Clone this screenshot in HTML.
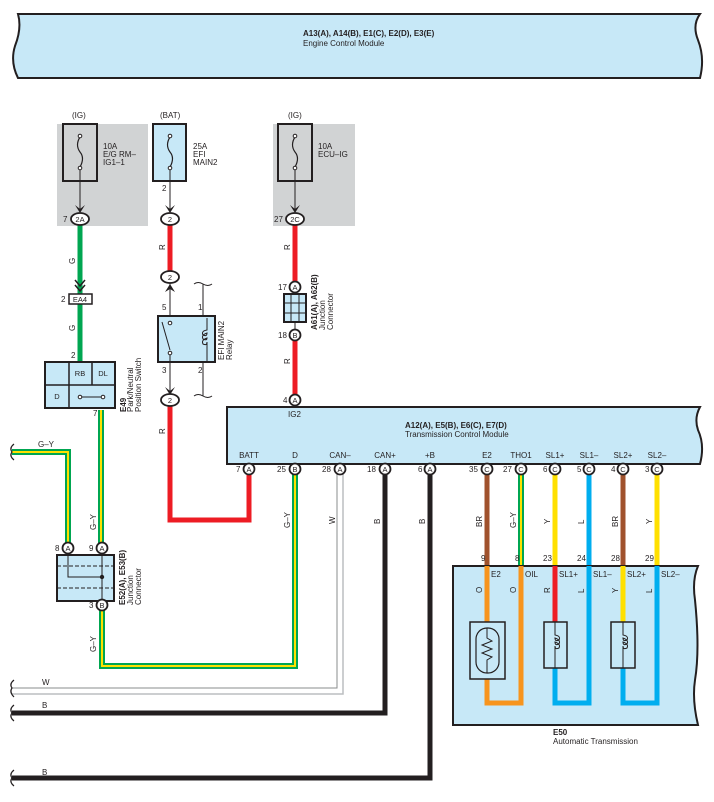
<!DOCTYPE html>
<html><head><meta charset="utf-8"><style>
html,body{margin:0;padding:0;background:#fff;}
svg{display:block;font-family:"Liberation Sans",sans-serif;}
.t{font-size:8px;fill:#231f20;}
.b{font-size:8px;font-weight:bold;fill:#231f20;}
.bx{fill:#c7e8f7;stroke:#231f20;stroke-width:2;}
.cn{fill:#fff;stroke:#231f20;stroke-width:1.8;}
.ct{font-size:7.5px;fill:#231f20;text-anchor:middle;}
</style></head><body>
<svg width="714" height="802" viewBox="0 0 714 802" xmlns="http://www.w3.org/2000/svg">
<!-- ECM -->
<path class="bx" d="M18,14 L700,14 Q692,25 698,40 Q705,58 700,78 L18,78 Q10,62 15,46 Q22,28 18,14 Z"/>
<text class="b" x="303" y="36">A13(A), A14(B), E1(C), E2(D), E3(E)</text>
<text class="t" x="303" y="46">Engine Control Module</text>

<!-- gray fuse areas -->
<rect x="57" y="124" width="91" height="102" fill="#d1d3d4"/>
<rect x="273" y="124" width="82" height="102" fill="#d1d3d4"/>
<text class="t" x="72" y="118">(IG)</text>
<text class="t" x="160" y="118">(BAT)</text>
<text class="t" x="288" y="118">(IG)</text>
<rect x="63" y="124" width="34" height="57" fill="#d1d3d4" stroke="#231f20" stroke-width="2"/>
<rect x="153" y="124" width="33" height="57" class="bx"/>
<rect x="278" y="124" width="34" height="57" fill="#d1d3d4" stroke="#231f20" stroke-width="2"/>
<g fill="none" stroke="#231f20" stroke-width="1.2">
<path d="M80,137 Q75,145 80,152 Q85,158 80,167"/>
<path d="M170,137 Q165,145 170,152 Q175,158 170,167"/>
<path d="M295,137 Q290,145 295,152 Q300,158 295,167"/>
</g>
<g fill="#fff" stroke="#231f20" stroke-width="1"><circle cx="80" cy="136" r="1.8"/><circle cx="80" cy="168" r="1.8"/><circle cx="170" cy="136" r="1.8"/><circle cx="170" cy="168" r="1.8"/><circle cx="295" cy="136" r="1.8"/><circle cx="295" cy="168" r="1.8"/></g>
<text class="t" x="103" y="149">10A</text><text class="t" x="103" y="157">E/G RM–</text><text class="t" x="103" y="165">IG1–1</text>
<text class="t" x="193" y="149">25A</text><text class="t" x="193" y="157">EFI</text><text class="t" x="193" y="165">MAIN2</text>
<text class="t" x="318" y="149">10A</text><text class="t" x="318" y="157">ECU–IG</text>
<g stroke="#231f20" stroke-width="1"><line x1="80" y1="170" x2="80" y2="212"/><line x1="170" y1="170" x2="170" y2="212"/><line x1="295" y1="170" x2="295" y2="212"/></g>
<g fill="#231f20"><path d="M75,205 L80,213 L85,205 L80,209Z"/><path d="M165,205 L170,213 L175,205 L170,209Z"/><path d="M290,205 L295,213 L300,205 L295,209Z"/></g>
<text class="t" x="162" y="191">2</text>

<!-- wires -->
<g fill="none" stroke-linejoin="miter">
<line x1="80" y1="225" x2="80" y2="364" stroke="#00a651" stroke-width="5"/>
<line x1="170" y1="225" x2="170" y2="272" stroke="#ed1c24" stroke-width="5"/>
<polyline points="170,405 170,520 249,520 249,474" stroke="#ed1c24" stroke-width="5"/>
<line x1="295" y1="225" x2="295" y2="282" stroke="#ed1c24" stroke-width="5"/>
<line x1="295" y1="340" x2="295" y2="395" stroke="#ed1c24" stroke-width="5"/>
<g stroke="#00a651" stroke-width="6">
<polyline points="101,410 101,543"/>
<polyline points="12,452 68,452 68,543"/>
<polyline points="102,610 102,666 295,666 295,474"/>
<polyline points="521,474 521,566"/>
</g>
<g stroke="#ffe000" stroke-width="2">
<polyline points="101,410 101,543"/>
<polyline points="12,452 68,452 68,543"/>
<polyline points="102,610 102,666 295,666 295,474"/>
<polyline points="521,474 521,566"/>
</g>
<polyline points="12,688 337,688 337,474" stroke="#8a8c8e" stroke-width="1"/>
<polyline points="12,694 343,694 343,474" stroke="#bcbec0" stroke-width="1.5"/>
<polyline points="12,713 385,713 385,474" stroke="#231f20" stroke-width="5"/>
<polyline points="12,778 430,778 430,474" stroke="#231f20" stroke-width="5"/>
<line x1="487" y1="474" x2="487" y2="566" stroke="#a0522d" stroke-width="5"/>
<line x1="555" y1="474" x2="555" y2="566" stroke="#ffe000" stroke-width="5"/>
<line x1="589" y1="474" x2="589" y2="566" stroke="#00aeef" stroke-width="5"/>
<line x1="623" y1="474" x2="623" y2="566" stroke="#a0522d" stroke-width="5"/>
<line x1="657" y1="474" x2="657" y2="566" stroke="#ffe000" stroke-width="5"/>
</g>
<g fill="none" stroke="#231f20" stroke-width="1.2">
<path d="M14,444 Q9,448 12,452 Q9,456 14,460"/>
<path d="M14,680 Q9,684 12,688 Q9,692 14,697"/>
<path d="M14,705 Q9,709 12,713 Q9,717 14,721"/>
<path d="M14,770 Q9,774 12,778 Q9,782 14,786"/>
</g>
<text class="t" x="38" y="447">G–Y</text>
<text class="t" x="42" y="685">W</text>
<text class="t" x="42" y="708">B</text>
<text class="t" x="42" y="775">B</text>

<g class="t">
<text transform="translate(75,264) rotate(-90)">G</text>
<text transform="translate(75,331) rotate(-90)">G</text>
<text transform="translate(165,250) rotate(-90)">R</text>
<text transform="translate(165,434) rotate(-90)">R</text>
<text transform="translate(290,250) rotate(-90)">R</text>
<text transform="translate(290,364) rotate(-90)">R</text>
<text transform="translate(96,530) rotate(-90)">G–Y</text>
<text transform="translate(96,652) rotate(-90)">G–Y</text>
<text transform="translate(290,528) rotate(-90)">G–Y</text>
<text transform="translate(335,524) rotate(-90)">W</text>
<text transform="translate(380,524) rotate(-90)">B</text>
<text transform="translate(425,524) rotate(-90)">B</text>
<text transform="translate(482,527) rotate(-90)">BR</text>
<text transform="translate(516,528) rotate(-90)">G–Y</text>
<text transform="translate(550,524) rotate(-90)">Y</text>
<text transform="translate(584,524) rotate(-90)">L</text>
<text transform="translate(618,527) rotate(-90)">BR</text>
<text transform="translate(652,524) rotate(-90)">Y</text>
</g>

<ellipse class="cn" cx="80" cy="219" rx="9" ry="6"/><text class="ct" x="80" y="222">2A</text><text class="t" x="63" y="222">7</text>
<ellipse class="cn" cx="170" cy="219" rx="9" ry="6"/><text class="ct" x="170" y="222">2</text>
<ellipse class="cn" cx="295" cy="219" rx="9" ry="6"/><text class="ct" x="295" y="222">2C</text><text class="t" x="274" y="222">27</text>
<path d="M75,280 L80,286 L85,280 M75,285 L80,291 L85,285" stroke="#231f20" stroke-width="1.5" fill="none"/>
<rect x="69" y="294" width="23" height="10" fill="#fff" stroke="#231f20" stroke-width="1.5"/>
<text class="ct" x="80" y="302">EA4</text><text class="t" x="61" y="302">2</text>

<rect class="bx" x="45" y="362" width="70" height="46"/>
<g stroke="#231f20" stroke-width="1.5"><line x1="69" y1="362" x2="69" y2="408"/><line x1="92" y1="362" x2="92" y2="385"/><line x1="45" y1="385" x2="115" y2="385"/></g>
<text class="ct" x="80" y="376">RB</text><text class="ct" x="103" y="376">DL</text><text class="ct" x="57" y="399">D</text>
<line x1="80" y1="397" x2="103" y2="397" stroke="#231f20" stroke-width="1"/>
<circle cx="80" cy="397" r="1.8" fill="#fff" stroke="#231f20"/><circle cx="103" cy="397" r="1.8" fill="#fff" stroke="#231f20"/>
<text class="t" x="71" y="358">2</text><text class="t" x="93" y="416">7</text>
<text class="b" transform="translate(126,412) rotate(-90)">E49</text>
<text class="t" transform="translate(133,412) rotate(-90)">Park/Neutral</text>
<text class="t" transform="translate(141,412) rotate(-90)">Position Switch</text>

<!-- EFI relay -->
<ellipse class="cn" cx="170" cy="277" rx="9" ry="6"/><text class="ct" x="170" y="280">2</text>
<line x1="170" y1="283" x2="170" y2="322" stroke="#231f20"/>
<path d="M165,292 L170,284 L175,292 L170,289Z" fill="#231f20"/>
<path d="M194,284 Q198,281 203,284 Q208,287 212,284 M203,284 L203,396 M194,396 Q198,393 203,396 Q208,399 212,396" fill="none" stroke="#231f20"/>
<rect class="bx" x="158" y="316" width="57" height="46"/>
<line x1="162" y1="322" x2="170" y2="350" stroke="#231f20"/>
<circle cx="170" cy="323" r="1.8" fill="#fff" stroke="#231f20"/><circle cx="170" cy="353" r="1.8" fill="#fff" stroke="#231f20"/>
<path d="M207,318 L207,330 Q201,331 203,335 Q207,337 207,333 Q201,335 203,339 Q207,341 207,338 Q201,340 203,344 Q207,346 207,342 L207,362" fill="none" stroke="#231f20"/>
<line x1="170" y1="355" x2="170" y2="396" stroke="#231f20"/>
<path d="M165,387 L170,395 L175,387 L170,391Z" fill="#231f20"/>
<ellipse class="cn" cx="170" cy="400" rx="9" ry="6"/><text class="ct" x="170" y="403">2</text>
<text class="t" x="162" y="310">5</text><text class="t" x="198" y="310">1</text>
<text class="t" x="162" y="373">3</text><text class="t" x="198" y="373">2</text>
<text class="t" transform="translate(224,360) rotate(-90)">EFI MAIN2</text>
<text class="t" transform="translate(232,360) rotate(-90)">Relay</text>

<circle class="cn" cx="295" cy="287" r="5.5"/><text class="ct" x="295" y="290">A</text><text class="t" x="278" y="290">17</text>
<rect class="bx" x="284" y="294" width="22" height="28"/>
<g stroke="#231f20" stroke-width="1"><line x1="291" y1="294" x2="291" y2="322"/><line x1="299" y1="294" x2="299" y2="322"/><line x1="284" y1="303" x2="306" y2="303"/><line x1="284" y1="313" x2="306" y2="313"/></g>
<circle class="cn" cx="295" cy="335" r="5.5"/><text class="ct" x="295" y="338">B</text><text class="t" x="278" y="338">18</text>
<line x1="295" y1="322" x2="295" y2="330" stroke="#231f20"/>
<text class="b" transform="translate(317,330) rotate(-90)">A61(A), A62(B)</text>
<text class="t" transform="translate(325,330) rotate(-90)">Junction</text>
<text class="t" transform="translate(333,330) rotate(-90)">Connector</text>
<circle class="cn" cx="295" cy="400" r="5.5"/><text class="ct" x="295" y="403">A</text><text class="t" x="283" y="403">4</text>

<!-- TCM -->
<path class="bx" d="M227,407 L700,407 Q694,418 698,430 Q705,445 700,464 L227,464 Z"/>
<text class="t" x="288" y="417">IG2</text>
<text class="b" x="405" y="428">A12(A), E5(B), E6(C), E7(D)</text>
<text class="t" x="405" y="437">Transmission Control Module</text>
<g class="ct" style="font-size:8px">
<text x="249" y="458">BATT</text><text x="295" y="458">D</text><text x="340" y="458">CAN–</text><text x="385" y="458">CAN+</text><text x="430" y="458">+B</text>
<text x="487" y="458">E2</text><text x="521" y="458">THO1</text><text x="555" y="458">SL1+</text><text x="589" y="458">SL1–</text><text x="623" y="458">SL2+</text><text x="657" y="458">SL2–</text>
</g>
<g>
<circle class="cn" cx="249" cy="469" r="5.5"/><text class="ct" x="249" y="472">A</text><text class="t" x="236" y="472">7</text>
<circle class="cn" cx="295" cy="469" r="5.5"/><text class="ct" x="295" y="472">B</text><text class="t" x="277" y="472">25</text>
<circle class="cn" cx="340" cy="469" r="5.5"/><text class="ct" x="340" y="472">A</text><text class="t" x="322" y="472">28</text>
<circle class="cn" cx="385" cy="469" r="5.5"/><text class="ct" x="385" y="472">A</text><text class="t" x="367" y="472">18</text>
<circle class="cn" cx="430" cy="469" r="5.5"/><text class="ct" x="430" y="472">A</text><text class="t" x="418" y="472">6</text>
<circle class="cn" cx="487" cy="469" r="5.5"/><text class="ct" x="487" y="472">C</text><text class="t" x="469" y="472">35</text>
<circle class="cn" cx="521" cy="469" r="5.5"/><text class="ct" x="521" y="472">C</text><text class="t" x="503" y="472">27</text>
<circle class="cn" cx="555" cy="469" r="5.5"/><text class="ct" x="555" y="472">C</text><text class="t" x="543" y="472">6</text>
<circle class="cn" cx="589" cy="469" r="5.5"/><text class="ct" x="589" y="472">C</text><text class="t" x="577" y="472">5</text>
<circle class="cn" cx="623" cy="469" r="5.5"/><text class="ct" x="623" y="472">C</text><text class="t" x="611" y="472">4</text>
<circle class="cn" cx="657" cy="469" r="5.5"/><text class="ct" x="657" y="472">C</text><text class="t" x="645" y="472">3</text>
</g>

<!-- E52 junction -->
<circle class="cn" cx="68" cy="548" r="5.5"/><text class="ct" x="68" y="551">A</text><text class="t" x="55" y="551">8</text>
<circle class="cn" cx="102" cy="548" r="5.5"/><text class="ct" x="102" y="551">A</text><text class="t" x="89" y="551">9</text>
<rect class="bx" x="57" y="555" width="57" height="46"/>
<g stroke="#231f20" stroke-width="1" fill="none">
<line x1="57" y1="566" x2="114" y2="566" stroke-dasharray="4,2"/><line x1="57" y1="588" x2="114" y2="588" stroke-dasharray="4,2"/>
<polyline points="68,554 68,577 102,577"/><line x1="102" y1="554" x2="102" y2="600"/></g>
<circle cx="102" cy="577" r="2.2" fill="#231f20"/>
<circle class="cn" cx="102" cy="605" r="5.5"/><text class="ct" x="102" y="608">B</text><text class="t" x="89" y="608">3</text>
<text class="b" transform="translate(125,605) rotate(-90)">E52(A), E53(B)</text>
<text class="t" transform="translate(133,605) rotate(-90)">Junction</text>
<text class="t" transform="translate(141,605) rotate(-90)">Connector</text>

<!-- E50 -->
<path class="bx" d="M453,566 L698,566 Q692,580 695,600 Q700,650 695,680 Q692,700 698,725 L453,725 Z"/>
<g fill="none" stroke-width="5">
<polyline points="487,566 487,703 521,703 521,566" stroke="#f7941d"/>
<polyline points="555,566 555,622" stroke="#ed1c24"/>
<polyline points="555,668 555,703 589,703 589,566" stroke="#00aeef"/>
<polyline points="623,566 623,622" stroke="#ffe000"/>
<polyline points="623,668 623,703 657,703 657,566" stroke="#00aeef"/>
</g>
<rect x="470" y="622" width="35" height="57" fill="#c7e8f7" stroke="#231f20" stroke-width="1.5"/>
<rect x="476" y="628" width="23" height="45" rx="11" fill="#c7e8f7" stroke="#231f20" stroke-width="1.2"/>
<path d="M487,628 L487,638 L492,641 L482,645 L492,649 L482,653 L492,657 L487,660 L487,673" fill="none" stroke="#231f20"/>
<rect x="544" y="622" width="23" height="46" fill="#c7e8f7" stroke="#231f20" stroke-width="1.5"/>
<rect x="611" y="622" width="24" height="46" fill="#c7e8f7" stroke="#231f20" stroke-width="1.5"/>
<path d="M555,622 L555,635 Q561,636 559,640 Q555,642 555,638 Q561,640 559,644 Q555,646 555,642 Q561,644 559,648 Q555,650 555,646 L555,668" fill="none" stroke="#231f20"/>
<path d="M623,622 L623,635 Q629,636 627,640 Q623,642 623,638 Q629,640 627,644 Q623,646 623,642 Q629,644 627,648 Q623,650 623,646 L623,668" fill="none" stroke="#231f20"/>
<g class="t">
<text x="481" y="561">9</text><text x="515" y="561">8</text><text x="543" y="561">23</text><text x="577" y="561">24</text><text x="611" y="561">28</text><text x="645" y="561">29</text>
<text x="491" y="577">E2</text><text x="525" y="577">OIL</text><text x="559" y="577">SL1+</text><text x="593" y="577">SL1–</text><text x="627" y="577">SL2+</text><text x="661" y="577">SL2–</text>
<text transform="translate(482,593) rotate(-90)">O</text>
<text transform="translate(516,593) rotate(-90)">O</text>
<text transform="translate(550,593) rotate(-90)">R</text>
<text transform="translate(584,593) rotate(-90)">L</text>
<text transform="translate(618,593) rotate(-90)">Y</text>
<text transform="translate(652,593) rotate(-90)">L</text>
</g>
<text class="b" x="553" y="735">E50</text>
<text class="t" x="553" y="744">Automatic Transmission</text>
</svg>
</body></html>
